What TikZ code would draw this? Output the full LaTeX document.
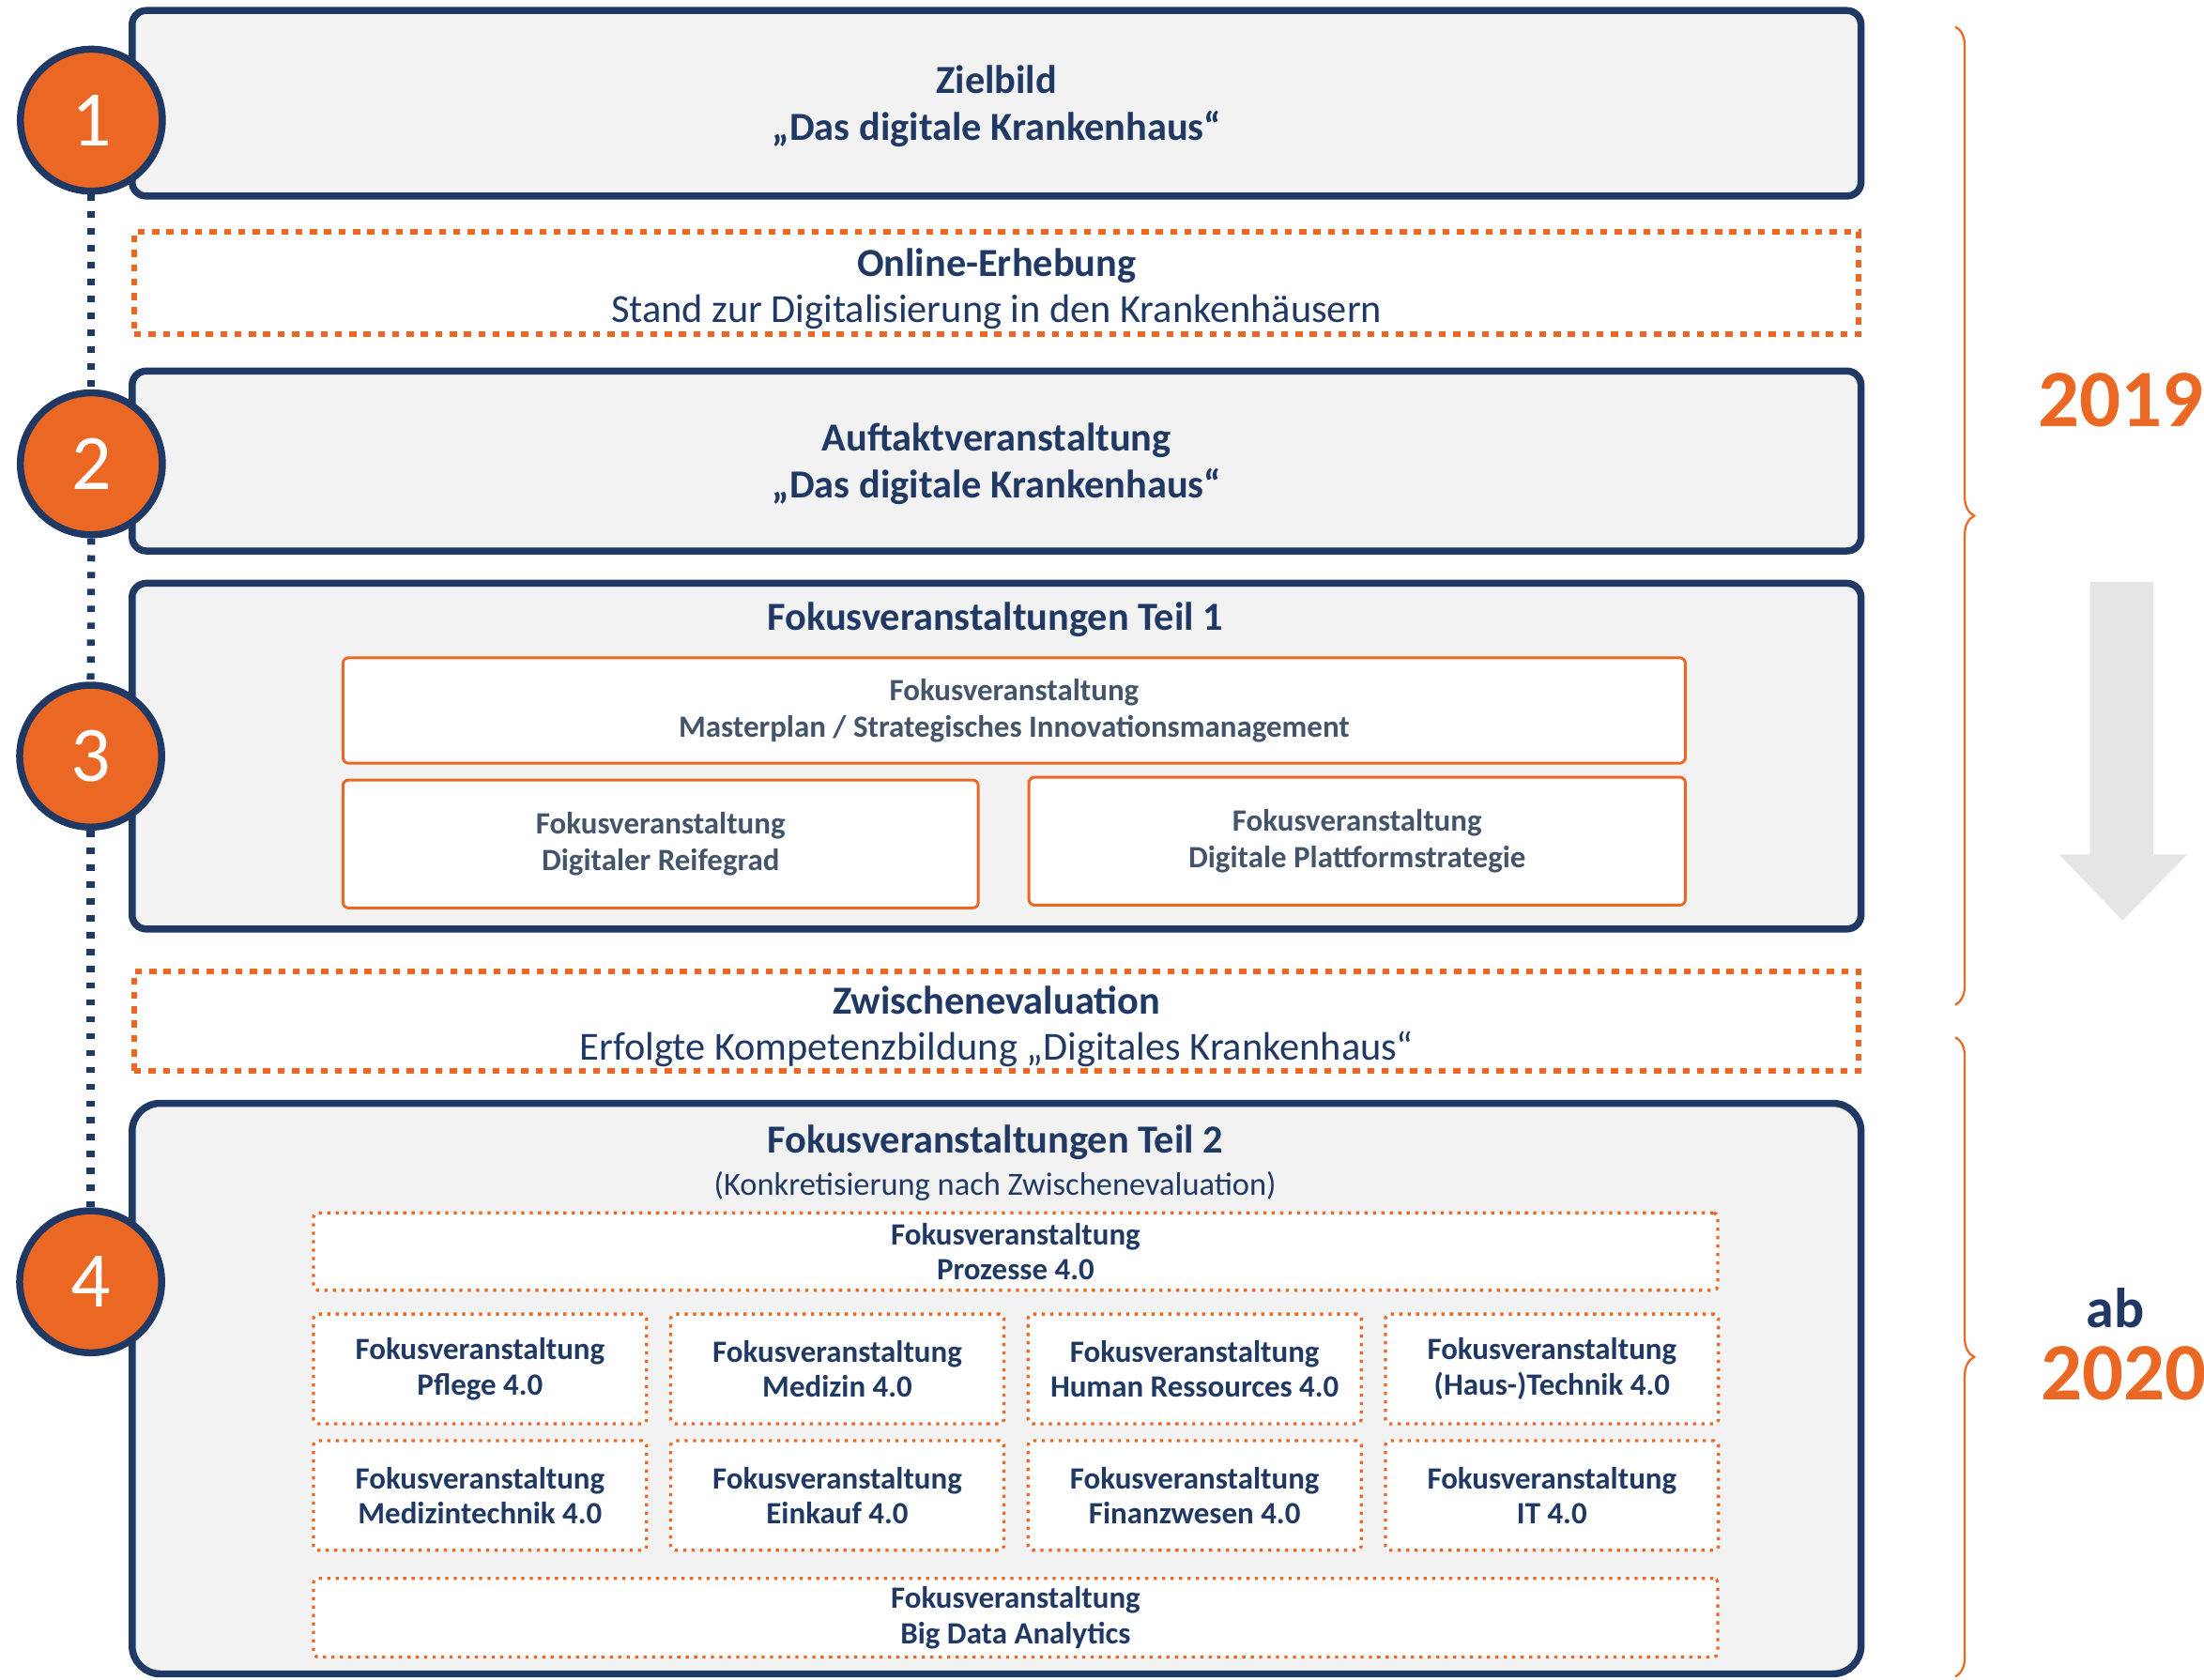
\documentclass[tikz,border=0pt]{standalone}
\usepackage{fontspec}
\setmainfont{Carlito}
\usepackage{xcolor}
\usetikzlibrary{positioning}
\usetikzlibrary{decorations.pathreplacing}

\definecolor{navy}{RGB}{31,56,100}
\definecolor{fokusorange}{RGB}{235,104,36}
\definecolor{boxgray}{RGB}{242,242,242}
\definecolor{arrowgray}{RGB}{229,229,229}
\definecolor{slate}{RGB}{68,84,106}

\tikzset{
  phasebox/.style={rectangle, draw=navy, line width=5pt, fill=boxgray, rounded corners=10pt,
    minimum width=1230pt},
  headline/.style={text=navy, align=center, font=\fontsize{28.3}{33}\selectfont\bfseries},
  surveybox/.style={rectangle, draw=fokusorange, line width=4pt, dash pattern=on 5pt off 5.2pt,
    fill=white, minimum width=1227pt},
  surveytext/.style={text=navy, align=center, font=\fontsize{28.3}{33}\selectfont},
  eventbox/.style={rectangle, draw=fokusorange, line width=2pt, fill=white, rounded corners=4pt,
    text=slate, align=center, font=\fontsize{22}{26}\selectfont\bfseries},
  topicbox/.style={rectangle, draw=fokusorange, line width=2.2pt, dash pattern=on 2.2pt off 3.8pt,
    fill=white, rounded corners=3pt, text=navy, align=center,
    font=\fontsize{22}{25}\selectfont\bfseries, minimum width=237pt, minimum height=78pt},
  stepnum/.style={circle, fill=fokusorange, draw=navy, line width=5pt, minimum size=101pt,
    inner sep=0pt, text=white, font=\fontsize{56}{60}\selectfont},
  timeline/.style={navy, line width=5.5pt, dash pattern=on 4.5pt off 7.5pt},
  yearbrace/.style={fokusorange, line width=1.5pt, decorate, decoration={brace, amplitude=13.5pt}},
  yearlabel/.style={text=fokusorange, font=\fontsize{58}{60}\selectfont\bfseries},
}

\begin{document}
\begin{tikzpicture}[x=1pt, y=1pt]
    \useasboundingbox (0,0) rectangle (1568,-1195);

    % Define nodes
    \node[phasebox, minimum height=132pt] (ziel) at (709,-73.5) {};
    \node[headline, yshift=-2pt] (zieltext) at (ziel) {Zielbild\\„Das digitale Krankenhaus“};
    \node[surveybox, minimum height=73pt] (erhebung) at (709,-201.5) {};
    \node[surveytext, yshift=-4pt] (erhebungtext) at (erhebung)
      {\textbf{Online-Erhebung}\\Stand zur Digitalisierung in den Krankenhäusern};
    \node[phasebox, minimum height=128pt] (auftakt) at (709,-328) {};
    \node[headline, yshift=-2pt] (auftakttext) at (auftakt)
      {Auftaktveranstaltung\\„Das digitale Krankenhaus“};
    \node[phasebox, minimum height=246pt] (teil1) at (709,-538) {};
    \node[headline] (teil1title) at (708,-441) {Fokusveranstaltungen Teil 1};
    \node[eventbox, minimum width=955pt, minimum height=75pt] (masterplan) at (721.5,-505.5)
      {Fokusveranstaltung\\Masterplan / Strategisches Innovationsmanagement};
    \node[eventbox, minimum width=452pt, minimum height=91pt] (reifegrad) at (470,-600.5)
      {Fokusveranstaltung\\Digitaler Reifegrad};
    \node[eventbox, minimum width=467pt, minimum height=91pt] (plattform) at (965.5,-598.5)
      {Fokusveranstaltung\\Digitale Plattformstrategie};
    \node[surveybox, minimum height=71pt] (zwischen) at (709,-726.5) {};
    \node[surveytext, yshift=-4pt] (zwischentext) at (zwischen)
      {\textbf{Zwischenevaluation}\\Erfolgte Kompetenzbildung „Digitales Krankenhaus“};
    \node[phasebox, rounded corners=20pt, minimum height=406pt] (teil2) at (709,-988) {};
    \node[headline] (teil2title) at (708,-813) {Fokusveranstaltungen Teil 2};
    \node[text=navy, font=\fontsize{23}{27}\selectfont] (konkret) at (708,-844)
      {(Konkretisierung nach Zwischenevaluation)};
    \node[topicbox, minimum width=999pt, minimum height=55pt] (prozesse) at (722.5,-890.5)
      {Fokusveranstaltung\\Prozesse 4.0};
    \node[topicbox] (pflege) at (341.5,-974) {Fokusveranstaltung\\Pflege 4.0};
    \node[topicbox, right=15pt of pflege] (medizin) {Fokusveranstaltung\\Medizin 4.0};
    \node[topicbox, right=15pt of medizin] (hr) {Fokusveranstaltung\\Human Ressources 4.0};
    \node[topicbox, right=15pt of hr] (haustechnik) {Fokusveranstaltung\\(Haus-)Technik 4.0};
    \node[topicbox, below=9.8pt of pflege] (medtech) {Fokusveranstaltung\\Medizintechnik 4.0};
    \node[topicbox, right=15pt of medtech] (einkauf) {Fokusveranstaltung\\Einkauf 4.0};
    \node[topicbox, right=15pt of einkauf] (finanz) {Fokusveranstaltung\\Finanzwesen 4.0};
    \node[topicbox, right=15pt of finanz] (it) {Fokusveranstaltung\\IT 4.0};
    \node[topicbox, minimum width=999pt, minimum height=56pt] (bigdata) at (722.5,-1151)
      {Fokusveranstaltung\\Big Data Analytics};

    % Steps
    \node[stepnum] (c1) at (65,-85.5) {1};
    \node[stepnum] (c2) at (65,-330) {2};
    \node[stepnum] (c3) at (64.5,-538) {3};
    \node[stepnum] (c4) at (64.5,-912) {4};

    % Connect the nodes
    \foreach \a/\b in {1/2, 2/3, 3/4}
      \draw[timeline] (c\a.south) -- (c\b.north);

    % Years
    \coordinate (b1top) at (1391,-19);
    \coordinate (b1bot) at (1391,-715);
    \coordinate (b2top) at (1391,-738);
    \coordinate (b2bot) at (1391,-1193);
    \draw[yearbrace] (b1top) -- (b1bot);
    \draw[yearbrace] (b2top) -- (b2bot);
    \node[yearlabel] (y2019) at (1509,-285) {2019};
    \fill[arrowgray] (1487,-414) -- (1532,-414) -- (1532,-608) -- (1556,-608)
      -- (1510,-655) -- (1465,-608) -- (1487,-608) -- cycle;
    \node[text=navy, font=\fontsize{40}{44}\selectfont\bfseries] (ab) at (1505,-931) {ab};
    \node[yearlabel] (y2020) at (1511,-977) {2020};

\end{tikzpicture}
\end{document}
